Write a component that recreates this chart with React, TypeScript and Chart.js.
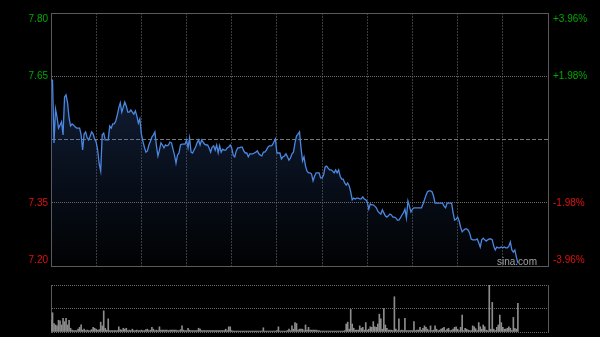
import React, { useEffect, useRef } from 'react';
import { Chart, registerables } from 'chart.js';

Chart.register(...registerables);

// ---- data ----
const prevClose = 7.5;
const sessionMinutes = 330; // 09:30-12:00 + 13:00-16:00
const priceTicks = [7.2, 7.35, 7.5, 7.65, 7.8];
const priceTickLabels = ['7.20', '7.35', '', '7.65', '7.80'];
const pctTickLabels = ['-3.96%', '-1.98%', '', '+1.98%', '+3.96%'];
const volumeMax = 100;

const prices = [
  7.641, 7.641, 7.492, 7.572, 7.553, 7.527, 7.534, 7.542, 7.511, 7.601,
  7.606, 7.587, 7.551, 7.532, 7.537, 7.534, 7.530, 7.527, 7.527, 7.527,
  7.511, 7.475, 7.513, 7.518, 7.504, 7.499, 7.508, 7.518, 7.513, 7.501,
  7.494, 7.475, 7.442, 7.425, 7.511, 7.515, 7.499, 7.499, 7.499, 7.532,
  7.527, 7.537, 7.537, 7.544, 7.558, 7.575, 7.587, 7.565, 7.577, 7.589,
  7.579, 7.565, 7.565, 7.570, 7.565, 7.560, 7.568, 7.556, 7.539, 7.549,
  7.513, 7.496, 7.482, 7.470, 7.473, 7.487, 7.496, 7.506, 7.511, 7.518,
  7.485, 7.461, 7.475, 7.492, 7.487, 7.480, 7.487, 7.485, 7.487, 7.494,
  7.492, 7.477, 7.463, 7.444, 7.463, 7.468, 7.487, 7.489, 7.489, 7.489,
  7.499, 7.480, 7.504, 7.470, 7.468, 7.475, 7.482, 7.492, 7.499, 7.487,
  7.499, 7.494, 7.489, 7.487, 7.487, 7.480, 7.470, 7.482, 7.485, 7.475,
  7.487, 7.468, 7.485, 7.470, 7.477, 7.475, 7.475, 7.480, 7.482, 7.487,
  7.480, 7.463, 7.459, 7.473, 7.480, 7.480, 7.482, 7.482, 7.473, 7.468,
  7.468, 7.459, 7.466, 7.466, 7.466, 7.468, 7.470, 7.473, 7.466, 7.463,
  7.461, 7.470, 7.470, 7.475, 7.482, 7.485, 7.485, 7.487, 7.494, 7.501,
  7.468, 7.468, 7.468, 7.454, 7.459, 7.461, 7.466, 7.459, 7.451, 7.456,
  7.466, 7.470, 7.492, 7.508, 7.513, 7.518, 7.480, 7.449, 7.459, 7.437,
  7.425, 7.421, 7.421, 7.418, 7.402, 7.413, 7.421, 7.421, 7.421, 7.409,
  7.409, 7.416, 7.435, 7.437, 7.432, 7.428, 7.428, 7.425, 7.421, 7.428,
  7.421, 7.428, 7.413, 7.406, 7.406, 7.397, 7.392, 7.397, 7.390, 7.376,
  7.357, 7.361, 7.359, 7.361, 7.361, 7.359, 7.359, 7.364, 7.359, 7.357,
  7.352, 7.335, 7.347, 7.345, 7.345, 7.342, 7.338, 7.330, 7.326, 7.323,
  7.333, 7.326, 7.319, 7.316, 7.319, 7.323, 7.321, 7.316, 7.316, 7.314,
  7.309, 7.309, 7.314, 7.321, 7.326, 7.335, 7.314, 7.354, 7.342, 7.328,
  7.335, 7.338, 7.338, 7.338, 7.338, 7.338, 7.338, 7.347, 7.357, 7.368,
  7.376, 7.378, 7.378, 7.376, 7.366, 7.349, 7.349, 7.349, 7.349, 7.349,
  7.349, 7.342, 7.338, 7.349, 7.349, 7.349, 7.349, 7.326, 7.309, 7.311,
  7.316, 7.307, 7.292, 7.281, 7.285, 7.288, 7.288, 7.285, 7.278, 7.264,
  7.262, 7.262, 7.262, 7.264, 7.255, 7.245, 7.262, 7.266, 7.262, 7.259,
  7.262, 7.264, 7.264, 7.262, 7.247, 7.238, 7.245, 7.243, 7.243, 7.245,
  7.243, 7.245, 7.243, 7.243, 7.247, 7.257, 7.238, 7.233, 7.238, 7.221, 7.207,
];

const volumes = [
  25, 41, 18, 15, 13, 25, 24, 15, 29, 22,
  29, 15, 25, 8, 4, 3, 3, 3, 6, 10,
  15, 4, 6, 3, 4, 3, 3, 5, 10, 8,
  6, 4, 5, 21, 13, 45, 8, 4, 28, 3,
  3, 3, 3, 3, 3, 11, 5, 4, 8, 6,
  8, 3, 4, 3, 6, 3, 3, 4, 3, 3,
  4, 3, 3, 5, 6, 3, 4, 10, 6, 3,
  4, 3, 11, 4, 4, 4, 4, 4, 3, 4,
  4, 4, 4, 4, 3, 3, 5, 13, 4, 3,
  3, 8, 4, 3, 3, 3, 3, 3, 8, 6,
  3, 3, 3, 3, 3, 3, 3, 3, 3, 3,
  3, 3, 3, 3, 3, 3, 6, 3, 11, 11,
  3, 2, 2, 2, 2, 2, 2, 2, 2, 2,
  2, 2, 2, 2, 2, 2, 2, 2, 2, 2,
  2, 9, 2, 2, 2, 2, 2, 2, 2, 2,
  3, 11, 2, 2, 2, 2, 2, 3, 6, 3,
  13, 6, 20, 18, 4, 6, 6, 6, 3, 15,
  4, 10, 4, 4, 4, 4, 4, 3, 3, 2,
  2, 2, 2, 2, 2, 2, 2, 2, 2, 2,
  2, 2, 2, 2, 2, 3, 17, 21, 6, 48,
  17, 8, 4, 4, 4, 13, 8, 10, 4, 20,
  4, 6, 11, 10, 22, 11, 10, 17, 38, 28,
  6, 50, 15, 8, 4, 4, 4, 3, 75, 6,
  3, 28, 3, 4, 3, 29, 3, 3, 3, 3,
  3, 22, 3, 4, 4, 10, 4, 8, 13, 10,
  6, 3, 13, 3, 4, 13, 6, 3, 4, 6,
  8, 10, 3, 6, 8, 3, 4, 6, 10, 11,
  6, 3, 10, 36, 3, 8, 6, 4, 3, 3,
  13, 11, 7, 3, 20, 11, 6, 15, 11, 4,
  3, 100, 6, 63, 6, 3, 10, 15, 36, 20,
  10, 6, 6, 8, 11, 8, 3, 31, 8, 6, 61,
];

// ---- styles ----
const UP = '#00a800';
const DOWN = '#e01010';
const FONT = '10px "Liberation Sans", Arial, sans-serif';
const BORDER = '#5a5a5a';
const HGRID = '#6a6a6a';
const VGRID = '#3c3c3c';

const priceLabelsPlugin = {
  id: 'priceLabels',
  beforeDatasetsDraw(chart: any) {
    const { ctx, chartArea } = chart;
    ctx.save();
    ctx.font = FONT;
    ctx.fillStyle = 'rgba(190,190,190,0.85)';
    ctx.textAlign = 'right';
    ctx.textBaseline = 'alphabetic';
    ctx.fillText('sina.com', chartArea.right - 11, chartArea.bottom - 1);
    ctx.restore();
  },
  afterDraw(chart: any) {
    const { ctx, chartArea } = chart;
    const y = chart.scales.y;
    ctx.save();
    ctx.font = FONT;
    ctx.textBaseline = 'middle';
    priceTicks.forEach((v, i) => {
      if (!priceTickLabels[i]) return;
      let py = y.getPixelForValue(v);
      py = Math.min(Math.max(py, chartArea.top + 6), chartArea.bottom - 6);
      ctx.fillStyle = v > prevClose ? UP : DOWN;
      ctx.textAlign = 'right';
      ctx.fillText(priceTickLabels[i], chartArea.left - 3, py);
      ctx.textAlign = 'left';
      ctx.fillText(pctTickLabels[i], chartArea.right + 5, py);
    });
    ctx.restore();
  },
};

export default function App() {
  const priceRef = useRef<HTMLCanvasElement>(null);
  const volRef = useRef<HTMLCanvasElement>(null);

  useEffect(() => {
    document.body.style.background = '#000';
    const priceData = prices.map((p, i) => ({ x: i, y: p }));
    const volData = volumes.map((v, i) => ({ x: i, y: v }));

    const priceChart = new Chart(priceRef.current as HTMLCanvasElement, {
      type: 'line',
      data: {
        datasets: [
          {
            data: priceData,
            borderColor: '#4b87e0',
            borderWidth: 1.3,
            pointRadius: 0,
            tension: 0,
            fill: 'start',
            backgroundColor: (c: any) => {
              const area = c.chart.chartArea;
              if (!area) return 'transparent';
              const g = c.chart.ctx.createLinearGradient(0, area.top, 0, area.bottom);
              g.addColorStop(0, 'rgba(50,90,160,0.45)');
              g.addColorStop(1, 'rgba(50,90,160,0.02)');
              return g;
            },
          },
        ],
      },
      options: {
        responsive: false,
        animation: false,
        devicePixelRatio: 1,
        layout: { padding: { top: 13, bottom: 14, left: 0, right: 0 } },
        plugins: { legend: { display: false }, tooltip: { enabled: false } },
        scales: {
          x: {
            type: 'linear',
            min: 0,
            max: sessionMinutes,
            ticks: { display: false, stepSize: 30 },
            grid: {
              drawTicks: false,
              color: (c: any) =>
                c.tick && (c.tick.value === 0 || c.tick.value === sessionMinutes) ? 'transparent' : VGRID,
            },
            border: { display: true, color: BORDER, dash: [2, 1] },
            afterFit: (s: any) => { s.height = 0; },
          },
          y: {
            type: 'linear',
            position: 'left',
            min: priceTicks[0],
            max: priceTicks[priceTicks.length - 1],
            afterBuildTicks: (s: any) => { s.ticks = priceTicks.map((v) => ({ value: v })); },
            ticks: { display: false },
            grid: {
              drawTicks: false,
              color: (c: any) => {
                const v = c.tick && c.tick.value;
                if (v === priceTicks[0] || v === priceTicks[priceTicks.length - 1]) return BORDER;
                if (v === prevClose) return '#7a7a7a';
                return HGRID;
              },
            },
            border: {
              display: true,
              color: BORDER,
              dash: (c: any) => {
                const v = c.tick && c.tick.value;
                if (v === priceTicks[0] || v === priceTicks[priceTicks.length - 1]) return [];
                if (v === prevClose) return [4, 2];
                return [1, 1];
              },
            },
            afterFit: (s: any) => { s.width = 51; },
          },
          yR: {
            type: 'linear',
            position: 'right',
            min: priceTicks[0],
            max: priceTicks[priceTicks.length - 1],
            ticks: { display: false },
            grid: { display: false, drawTicks: false },
            border: { display: true, color: BORDER },
            afterFit: (s: any) => { s.width = 52; },
          },
        },
      },
      plugins: [priceLabelsPlugin],
    } as any);

    const volChart = new Chart(volRef.current as HTMLCanvasElement, {
      type: 'bar',
      data: {
        datasets: [
          {
            data: volData,
            backgroundColor: '#8c8c8c',
            borderWidth: 0,
            barThickness: 1,
          },
        ],
      },
      options: {
        responsive: false,
        animation: false,
        devicePixelRatio: 1,
        layout: { padding: { top: 5, bottom: 5, left: 0, right: 0 } },
        plugins: { legend: { display: false }, tooltip: { enabled: false } },
        scales: {
          x: {
            type: 'linear',
            min: 0,
            max: sessionMinutes,
            offset: false,
            ticks: { display: false },
            grid: { display: false, drawTicks: false },
            border: { display: false },
            afterFit: (s: any) => { s.height = 0; },
          },
          y: {
            type: 'linear',
            position: 'left',
            min: 0,
            max: volumeMax,
            ticks: { display: false, stepSize: volumeMax / 2 },
            grid: { drawTicks: false, color: HGRID },
            border: { display: true, color: BORDER, dash: [1, 1] },
            afterFit: (s: any) => { s.width = 51; },
          },
          yR: {
            type: 'linear',
            position: 'right',
            min: 0,
            max: volumeMax,
            ticks: { display: false },
            grid: { display: false, drawTicks: false },
            border: { display: true, color: BORDER },
            afterFit: (s: any) => { s.width = 52; },
          },
        },
      },
    } as any);

    return () => {
      priceChart.destroy();
      volChart.destroy();
    };
  }, []);

  return (
    <div style={{ position: 'fixed', left: 0, top: 0, width: 600, height: 337, background: '#000' }}>
      <canvas ref={priceRef} width={600} height={280} style={{ position: 'absolute', left: 0, top: 0 }} />
      <canvas ref={volRef} width={600} height={57} style={{ position: 'absolute', left: 0, top: 280 }} />
    </div>
  );
}
